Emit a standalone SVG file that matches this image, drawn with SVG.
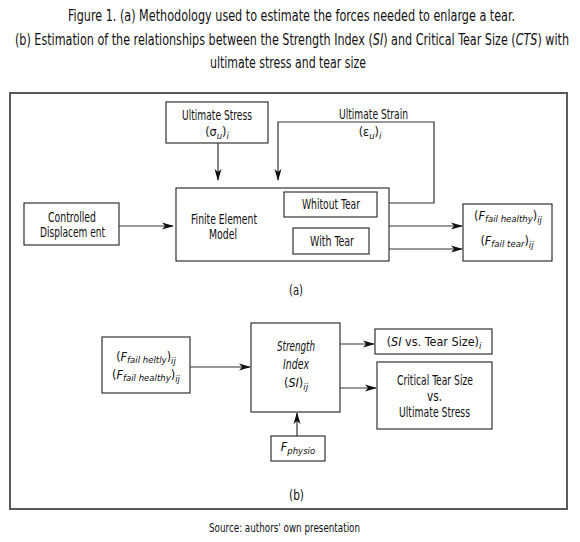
<svg xmlns="http://www.w3.org/2000/svg" width="580" height="542" viewBox="0 0 580 542">
<style>
text{font-family:"DejaVu Sans Condensed","Liberation Sans Narrow","Liberation Sans",sans-serif;fill:#111;}
.ti{font-size:16px;}
.n{font-size:13.5px;}
.m{font-size:12.5px;text-anchor:middle;}
.i{font-style:italic;}
.s{font-size:9.5px;font-style:italic;}
.box{fill:#fff;stroke:#333;stroke-width:1.2;}
.frame{fill:none;stroke:#5a5a5a;stroke-width:2;}
.c{fill:none;stroke:#333;stroke-width:1.2;}
.src{font-size:13px;}
</style>
<defs>
<marker id="ah" viewBox="0 0 12 8" refX="11" refY="4" markerWidth="12" markerHeight="8" markerUnits="userSpaceOnUse" orient="auto">
<path d="M0,0.5 L12,4 L0,7.5 L3,4 z" fill="#111"/>
</marker>
</defs>
<rect width="580" height="542" fill="#fff"/>
<g id="title">
<text class="ti" x="291.5" y="21" text-anchor="middle" textLength="447" lengthAdjust="spacingAndGlyphs">Figure 1. (a) Methodology used to estimate the forces needed to enlarge a tear.</text>
<text class="ti" x="15" y="45" textLength="554" lengthAdjust="spacingAndGlyphs">(b) Estimation of the relationships between the Strength Index (<tspan class="i">SI</tspan>) and Critical Tear Size (<tspan class="i">CTS</tspan>) with</text>
<text class="ti" x="210" y="68" textLength="156" lengthAdjust="spacingAndGlyphs">ultimate stress and tear size</text>
</g>
<rect class="frame" x="10" y="93" width="557" height="416"/>
<g id="connectors">
<path class="c" d="M218,143 V180" marker-end="url(#ah)"/>
<path class="c" d="M380,203 H434 V122 H278 V180" marker-end="url(#ah)"/>
<path class="c" d="M119,226 H173" marker-end="url(#ah)"/>
<path class="c" d="M389,226 H462" marker-end="url(#ah)"/>
<path class="c" d="M389,249 H462" marker-end="url(#ah)"/>
<path class="c" d="M190,367 H250" marker-end="url(#ah)"/>
<path class="c" d="M340,344 H374" marker-end="url(#ah)"/>
<path class="c" d="M340,388 H376" marker-end="url(#ah)"/>
<path class="c" d="M297,436 V413" marker-end="url(#ah)"/>
</g>
<g id="ultimate-stress">
<rect class="box" x="166" y="102" width="102" height="41"/>
<text class="n" x="182" y="120" textLength="70" lengthAdjust="spacingAndGlyphs">Ultimate Stress</text>
<text class="m" x="217" y="136">(σ<tspan class="s" dy="3">u</tspan><tspan dy="-3">)</tspan><tspan class="s" dy="3">i</tspan></text>
</g>
<g id="ultimate-strain">
<text class="n" x="339" y="119" textLength="69" lengthAdjust="spacingAndGlyphs">Ultimate Strain</text>
<text class="m" x="370" y="136">(ε<tspan class="s" dy="3">u</tspan><tspan dy="-3">)</tspan><tspan class="s" dy="3">i</tspan></text>
</g>
<g id="controlled-displacement">
<rect class="box" x="24" y="203" width="95" height="42"/>
<text class="n" x="48" y="222" textLength="48" lengthAdjust="spacingAndGlyphs">Controlled</text>
<text class="n" x="40" y="237" textLength="65" lengthAdjust="spacingAndGlyphs">Displacem ent</text>
</g>
<g id="fem">
<rect class="box" x="176" y="188" width="213" height="73"/>
<text class="n" x="191" y="224" textLength="66" lengthAdjust="spacingAndGlyphs">Finite Element</text>
<text class="n" x="209" y="239" textLength="28" lengthAdjust="spacingAndGlyphs">Model</text>
</g>
<g id="without-tear">
<rect class="box" x="284" y="192" width="93" height="25"/>
<text class="n" x="302" y="209" textLength="58" lengthAdjust="spacingAndGlyphs">Whitout Tear</text>
</g>
<g id="with-tear">
<rect class="box" x="293" y="228" width="76" height="26"/>
<text class="n" x="310" y="246" textLength="44" lengthAdjust="spacingAndGlyphs">With Tear</text>
</g>
<g id="ffail-output">
<rect class="box" x="463" y="204" width="89" height="57"/>
<text class="m" x="508" y="220">(<tspan class="i">F</tspan><tspan class="s" dy="2">fail healthy</tspan><tspan dy="-2">)</tspan><tspan class="s" dy="3">ij</tspan></text>
<text class="m" x="507" y="245">(<tspan class="i">F</tspan><tspan class="s" dy="2">fail tear</tspan><tspan dy="-2">)</tspan><tspan class="s" dy="3">ij</tspan></text>
</g>
<text class="n" x="289" y="295" textLength="14" lengthAdjust="spacingAndGlyphs">(a)</text>
<g id="ffail-input">
<rect class="box" x="102" y="337" width="88" height="56"/>
<text class="m" x="146" y="361">(<tspan class="i">F</tspan><tspan class="s" dy="2">fail heltly</tspan><tspan dy="-2">)</tspan><tspan class="s" dy="3">ij</tspan></text>
<text class="m" x="146" y="379">(<tspan class="i">F</tspan><tspan class="s" dy="2">fail healthy</tspan><tspan dy="-2">)</tspan><tspan class="s" dy="3">ij</tspan></text>
</g>
<g id="strength-index">
<rect class="box" x="251" y="323" width="89" height="89"/>
<text class="n i" x="277" y="351" textLength="38" lengthAdjust="spacingAndGlyphs">Strength</text>
<text class="n i" x="283" y="369" textLength="26" lengthAdjust="spacingAndGlyphs">Index</text>
<text class="m" x="296" y="387">(<tspan class="i">SI</tspan>)<tspan class="s" dy="3">ij</tspan></text>
</g>
<g id="fphysio">
<rect class="box" x="271" y="436" width="54" height="25"/>
<text class="m" x="298" y="451"><tspan class="i">F</tspan><tspan class="s" dy="3" font-size="11">physio</tspan></text>
</g>
<g id="si-vs-tear">
<rect class="box" x="375" y="329" width="117" height="25"/>
<text class="m" x="434" y="346">(<tspan class="i">SI</tspan> vs. Tear Size)<tspan class="s" dy="3">i</tspan></text>
</g>
<g id="critical-tear">
<rect class="box" x="377" y="362" width="115" height="67"/>
<text class="n" x="397" y="385" textLength="76" lengthAdjust="spacingAndGlyphs">Critical Tear Size</text>
<text class="n" x="427" y="401" textLength="15" lengthAdjust="spacingAndGlyphs">vs.</text>
<text class="n" x="399" y="417" textLength="71" lengthAdjust="spacingAndGlyphs">Ultimate Stress</text>
</g>
<text class="n" x="289" y="500" textLength="15" lengthAdjust="spacingAndGlyphs">(b)</text>
<text class="src" x="209" y="532" textLength="151" lengthAdjust="spacingAndGlyphs">Source: authors' own presentation</text>
</svg>
